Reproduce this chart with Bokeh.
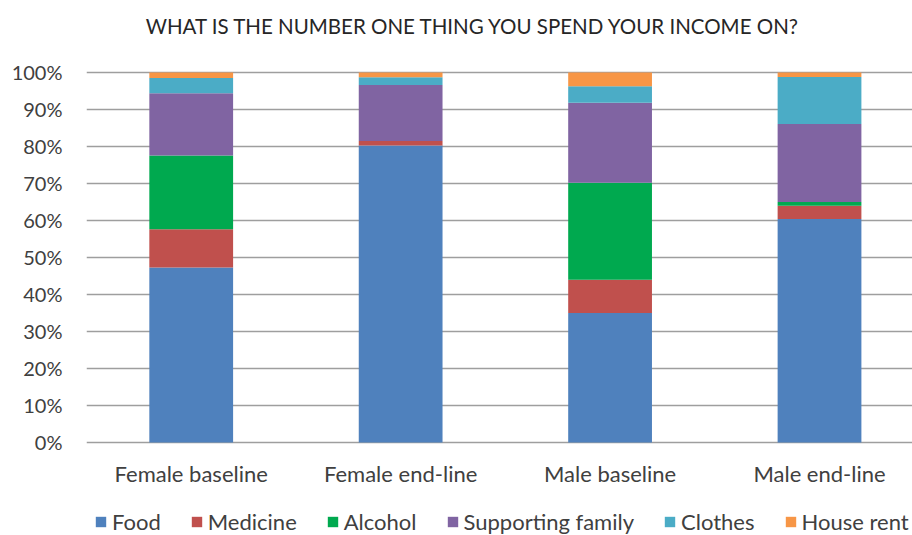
from bokeh.plotting import figure
from bokeh.models import (ColumnDataSource, Range1d, FixedTicker, PrintfTickFormatter,
                          Legend, LegendItem)
from bokeh.core.properties import value
from bokeh.embed import file_html
from bokeh.resources import INLINE

title_text = "WHAT IS THE NUMBER ONE THING YOU SPEND YOUR INCOME ON?"
categories = ["Female baseline", "Female end-line", "Male baseline", "Male end-line"]
series = ["Food", "Medicine", "Alcohol", "Supporting family", "Clothes", "House rent"]
food = [47.3, 80.3, 35.0, 60.4]
medicine = [10.3, 1.2, 9.0, 3.6]
alcohol = [20.0, 0.0, 26.2, 1.0]
supporting_family = [16.8, 15.1, 21.6, 21.1]
clothes = [4.1, 2.1, 4.5, 12.7]
house_rent = [1.5, 1.3, 3.7, 1.2]
colors = ["#4F81BD", "#C0504D", "#00A94F", "#8064A2", "#4BACC6", "#F79646"]
y_ticks = [0, 10, 20, 30, 40, 50, 60, 70, 80, 90, 100]

FONT = "Lato"
TXT = "#404040"

xpos = list(range(len(categories)))
src = ColumnDataSource(data={
    "x": xpos,
    "Food": food, "Medicine": medicine, "Alcohol": alcohol,
    "Supporting family": supporting_family, "Clothes": clothes, "House rent": house_rent,
})

# frame spans the full height; the value axis maps 0..100 to the same pixels
# as in the reference, the extra room holds title, category labels and legend
p = figure(width=912, height=535, output_backend="svg", toolbar_location=None,
           x_range=Range1d(-0.5, 3.444), y_range=Range1d(-25.14, 119.46),
           min_border_left=86, min_border_right=0, min_border_top=0, min_border_bottom=0)
p.outline_line_color = None

renderers = p.vbar_stack(series, x="x", width=0.4, source=src, color=colors,
                         line_color=None)

# title
p.text(x=[1.348], y=[112.7], text=[title_text], text_font=value(FONT),
       text_font_size="20.5px", text_color="#262626", text_align="center",
       text_baseline="middle")

# category labels
lab_src = ColumnDataSource(data={"x": xpos, "y": [-8.4] * len(xpos), "t": categories})
p.text(x="x", y="y", text="t", source=lab_src, text_font=value(FONT),
       text_font_size="22px", text_color=TXT, text_align="center",
       text_baseline="middle")

# axes
p.xaxis.visible = False
p.yaxis.ticker = FixedTicker(ticks=y_ticks)
p.yaxis.formatter = PrintfTickFormatter(format="%d%%")
p.yaxis.axis_line_color = None
p.yaxis.major_tick_line_color = None
p.yaxis.minor_tick_line_color = None
p.yaxis.major_tick_out = 0
p.yaxis.major_label_standoff = 24
p.yaxis.major_label_text_font = FONT
p.yaxis.major_label_text_font_size = "20px"
p.yaxis.major_label_text_color = TXT

p.xgrid.grid_line_color = None
p.ygrid.ticker = FixedTicker(ticks=y_ticks)
p.ygrid.grid_line_color = "#9E9E9E"
p.ygrid.grid_line_width = 1.5

legend = Legend(items=[LegendItem(label=s, renderers=[r]) for s, r in zip(series, renderers)],
                orientation="horizontal", location=(8, 0),
                glyph_width=13, glyph_height=13, label_standoff=5, spacing=29,
                label_height=20,
                padding=0, margin=0, border_line_color=None, background_fill_alpha=0,
                label_text_font=FONT, label_text_font_size="22px", label_text_color=TXT)
p.add_layout(legend)

open("out.html", "w").write(file_html(p, INLINE))
